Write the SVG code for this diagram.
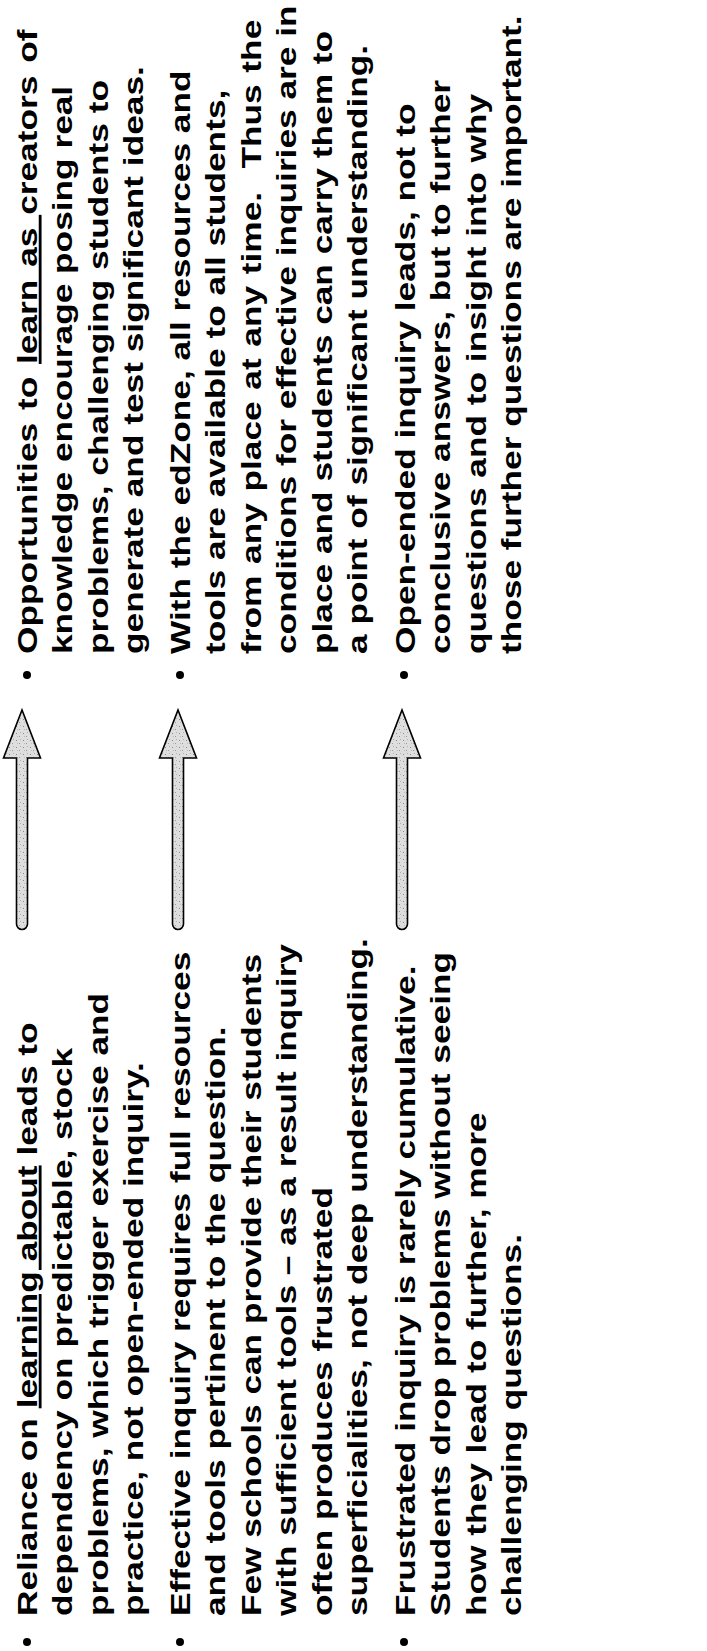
<svg xmlns="http://www.w3.org/2000/svg" width="707" height="1651" viewBox="0 0 707 1651">
<style>
text{font-family:"Liberation Sans",Arial,sans-serif;font-weight:bold;font-size:28px;fill:#000;white-space:pre}
.u{text-decoration:underline}
.arrow{fill:url(#stipple);stroke:#000;stroke-width:1.6;stroke-linejoin:miter}
.dot{fill:#000}
</style>
<defs>
<pattern id="stipple" width="7" height="7" patternUnits="userSpaceOnUse">
<rect width="7" height="7" fill="#dedede"/>
<rect x="1" y="2" width="1" height="1" fill="#8a8a8a"/>
<rect x="4" y="5" width="1" height="1" fill="#9a9a9a"/>
<rect x="5" y="1" width="1" height="1" fill="#b0b0b0"/>
<rect x="2" y="5" width="1" height="1" fill="#bdbdbd"/>
</pattern>
<path id="arr" d="M-5.5,48 L-18.5,48 L0,0 L18.5,48 L5.5,48 L5.5,214 A5.5,5.5 0 0 1 -5.5,214 Z"/>
</defs>
<g id="connectors">
<use href="#arr" class="arrow" transform="translate(22,710)"/>
<use href="#arr" class="arrow" transform="translate(178,710)"/>
<use href="#arr" class="arrow" transform="translate(402,710)"/>
</g>
<g id="left-1">
<circle class="dot" cx="27" cy="1642" r="4"/>
<g transform="translate(0,1616) rotate(-90) scale(1.26 1)">
<text x="0" y="37">Reliance on <tspan class="u">learning about</tspan> leads to</text>
<text x="0" y="72.4">dependency on predictable, stock</text>
<text x="0" y="107.8">problems, which trigger exercise and</text>
<text x="0" y="143.2">practice, not open-ended inquiry.</text>
</g>
</g>
<g id="left-2">
<circle class="dot" cx="180" cy="1642" r="4"/>
<g transform="translate(0,1616) rotate(-90) scale(1.26 1)">
<text x="0" y="190">Effective inquiry requires full resources</text>
<text x="0" y="225.4">and tools pertinent to the question.</text>
<text x="0" y="260.8">Few schools can provide their students</text>
<text x="0" y="296.2">with sufficient tools – as a result inquiry</text>
<text x="0" y="331.6">often produces frustrated</text>
<text x="0" y="367">superficialities, not deep understanding.</text>
</g>
</g>
<g id="left-3">
<circle class="dot" cx="404" cy="1642" r="4"/>
<g transform="translate(0,1616) rotate(-90) scale(1.26 1)">
<text x="0" y="415">Frustrated inquiry is rarely cumulative.</text>
<text x="0" y="450.4">Students drop problems without seeing</text>
<text x="0" y="485.8">how they lead to further, more</text>
<text x="0" y="521.2">challenging questions.</text>
</g>
</g>
<g id="right-1">
<circle class="dot" cx="27" cy="675" r="4"/>
<g transform="translate(0,654) rotate(-90) scale(1.26 1)">
<text x="0" y="37" word-spacing="2.4">Opportunities to <tspan class="u">learn as </tspan>creators of</text>
<text x="0" y="72.4">knowledge encourage posing real</text>
<text x="0" y="107.8">problems, challenging students to</text>
<text x="0" y="143.2">generate and test significant ideas.</text>
</g>
</g>
<g id="right-2">
<circle class="dot" cx="180" cy="675" r="4"/>
<g transform="translate(0,654) rotate(-90) scale(1.26 1)">
<text x="0" y="190">With the edZone, all resources and</text>
<text x="0" y="225.4">tools are available to all students,</text>
<text x="0" y="260.8" word-spacing="1.5">from any place at any time.  Thus the</text>
<text x="0" y="296.2">conditions for effective inquiries are in</text>
<text x="0" y="331.6">place and students can carry them to</text>
<text x="0" y="367">a point of significant understanding.</text>
</g>
</g>
<g id="right-3">
<circle class="dot" cx="404" cy="675" r="4"/>
<g transform="translate(0,654) rotate(-90) scale(1.26 1)">
<text x="0" y="415">Open-ended inquiry leads, not to</text>
<text x="0" y="450.4">conclusive answers, but to further</text>
<text x="0" y="485.8">questions and to insight into why</text>
<text x="0" y="521.2">those further questions are important.</text>
</g>
</g>
</svg>
